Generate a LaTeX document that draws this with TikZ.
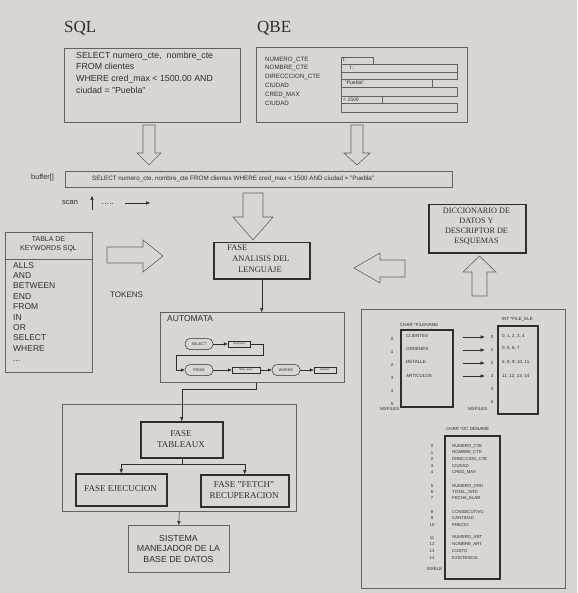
\documentclass[tikz,border=0pt]{standalone}
\usepackage{fontspec}
\setmainfont{Liberation Serif}
\setsansfont{Liberation Sans}
\usetikzlibrary{arrows.meta}
\definecolor{bg}{RGB}{217,214,209}
\definecolor{ink}{RGB}{48,46,44}
\definecolor{ln}{RGB}{100,98,96}
\newcommand{\sfz}[2]{\sffamily\fontsize{#1}{#2}\selectfont}
\newcommand{\rmz}[2]{\rmfamily\fontsize{#1}{#2}\selectfont}
\begin{document}
\begin{tikzpicture}[x=1pt,y=-1pt,
  every node/.style={inner sep=0pt, text=ink},
  thinbox/.style={draw=ln, line width=0.6pt, rectangle, anchor=north west},
  thickbox/.style={draw=ink, line width=1.5pt, rectangle, anchor=north west},
  hollow/.style={draw=ln, line width=0.6pt, line join=miter, fill=bg},
  tip/.style={draw=ink, line width=0.5pt, -{Triangle[length=4pt,width=3.2pt]}},
  oval/.style={draw=ink, line width=0.5pt, rounded corners=5pt, minimum width=28pt, minimum height=11pt, font=\sfz{3.8}{4}},
  sbox/.style={draw=ink, line width=0.5pt, minimum width=22pt, minimum height=6pt, font=\sfz{2.6}{3}},
  fld/.style={draw=ln, line width=0.5pt, anchor=north west, rectangle},
  tiny/.style={font=\sfz{4.5}{5}, anchor=west},
  idx/.style={font=\sfz{4.5}{5}}
]
\fill[bg] (0,0) rectangle (577,593);
\useasboundingbox (0,0) rectangle (577,593);

% titles
\node[font=\rmz{17}{19}, anchor=west] (tsql) at (64,28) {SQL};
\node[font=\rmz{17}{19}, anchor=west] (tqbe) at (257,28) {QBE};

% SQL box
\node[thinbox, minimum width=176pt, minimum height=74pt] (sqlbox) at (64,48) {};
\node[font=\sfz{8.8}{11.7}, align=left, anchor=north west] (sqltxt) at (76,51.5)
  {SELECT numero\_cte,\ \ nombre\_cte\\FROM clientes\\WHERE cred\_max < 1500.00 AND\\ciudad = "Puebla"};

% QBE box
\node[thinbox, minimum width=211pt, minimum height=75pt] (qbebox) at (256,47) {};
\node[font=\sfz{6.2}{8.8}, align=left, anchor=north west] (qbelbl) at (265,56.5)
  {NUMERO\_CTE\\NOMBRE\_CTE\\DIRECCCION\_CTE\\CIUDAD\\CRED\_MAX\\CIUDAD};
\node[fld, minimum width=32pt, minimum height=7pt] (f1) at (341,57) {};
\node[fld, minimum width=116pt, minimum height=8pt] (f2) at (341,64) {};
\node[fld, minimum width=116pt, minimum height=7pt] (f3) at (341,72) {};
\node[fld, minimum width=91pt, minimum height=8pt] (f4) at (341,79) {};
\node[fld, minimum width=116pt, minimum height=9pt] (f5) at (341,87) {};
\node[fld, minimum width=41pt, minimum height=7pt] (f6) at (341,96) {};
\node[fld, minimum width=116pt, minimum height=9pt] (f7) at (341,103) {};
\node[font=\sfz{5.5}{6}, anchor=west] (v1) at (343,60) {I.};
\node[font=\sfz{5.5}{6}, anchor=west] (v2) at (350,68) {I.};
\node[font=\sfz{5}{6}, anchor=west] (v4) at (345,83) {"Puebla"};
\node[font=\sfz{5}{6}, anchor=west] (v6) at (343,99.5) {< 1500};

% hollow arrows down
\draw[hollow] (143,125) -- (155,125) -- (155,153) -- (161,153) -- (149,165) -- (137,153) -- (143,153) -- cycle;
\draw[hollow] (351,125) -- (363,125) -- (363,153) -- (370,153) -- (357,165) -- (344,153) -- (351,153) -- cycle;

% buffer
\node[font=\sfz{7.3}{8}, anchor=east] (buflbl) at (54,178) {buffer[]};
\node[thinbox, minimum width=387pt, minimum height=16pt] (bufbox) at (65,171) {};
\node[font=\sfz{6.3}{7}, anchor=west] (buftxt) at (92,178.5)
  {SELECT numero\_cte, nombre\_cte FROM clientes WHERE cred\_max < 1500 AND ciudad = "Puebla"};
\node[font=\sfz{7.5}{8}, anchor=west] (scan) at (62,203) {scan};
\coordinate (sa) at (92,210);
\coordinate (sb) at (92,196);
\draw[tip] (sa) -- (sb);
\draw[ln, line width=0.6pt, dotted] (102,203) -- (114,203);
\coordinate (sc) at (125,203);
\coordinate (sd) at (150,203);
\draw[tip] (sc) -- (sd);

% big hollow arrow into FASE
\draw[hollow] (243,193) -- (263,193) -- (263,217) -- (273,217) -- (253,240) -- (233,217) -- (243,217) -- cycle;

% FASE analisis
\node[thickbox, minimum width=96pt, minimum height=36pt] (fase) at (213,242) {};
\node[font=\rmz{8.5}{9}, anchor=west] (fase1) at (227,248) {FASE};
\node[font=\rmz{8.5}{9}] (fase2) at (261,259) {ANALISIS DEL};
\node[font=\rmz{8.5}{9}] (fase3) at (260,269.5) {LENGUAJE};

% Diccionario
\node[thickbox, minimum width=97pt, minimum height=48pt] (dic) at (428,204) {};
\node[font=\rmz{8.2}{10}, align=center] (dictxt) at (476.5,226.5) {DICCIONARIO DE\\DATOS Y\\DESCRIPTOR DE\\ESQUEMAS};

% hollow left arrow and up arrow
\draw[hollow] (405,260) -- (380,260) -- (380,253) -- (354,268) -- (380,283) -- (380,277) -- (405,277) -- cycle;
\draw[hollow] (472,296) -- (472,272) -- (463,272) -- (479.5,256) -- (496,272) -- (487,272) -- (487,296) -- cycle;

% keywords table
\node[thinbox, minimum width=87pt, minimum height=140pt] (kw) at (5,232) {};
\draw[ln, line width=0.6pt] (kw.west |- 0,259) -- (kw.east |- 0,259);
\node[font=\sfz{7}{9.5}, align=center] (kwh) at (48.5,244.5) {TABLA DE\\KEYWORDS SQL};
\node[font=\sfz{8.5}{10.4}, align=left, anchor=north west] (kwl) at (13,262)
  {ALLS\\AND\\BETWEEN\\END\\FROM\\IN\\OR\\SELECT\\WHERE\\...};

% hollow right arrow + TOKENS
\draw[hollow] (107,247) -- (143,247) -- (143,240) -- (163,256) -- (143,272) -- (143,263) -- (107,263) -- cycle;
\node[font=\sfz{8}{9}, anchor=west] (tok) at (110,295) {TOKENS};

% AUTOMATA
\node[thinbox, minimum width=184pt, minimum height=70pt] (auto) at (160,312) {};
\node[font=\sfz{8.5}{9}, anchor=west] (autot) at (167,318.5) {AUTOMATA};
\draw[tip] (fase.south) -- (fase.south |- auto.north);
\node[oval] (sel) at (199,344) {SELECT};
\node[sbox] (ft) at (239,344) {field types};
\node[oval] (frm) at (199,370) {FROM};
\node[sbox, minimum width=28pt] (tn) at (246,370) {table\_name};
\node[oval] (whr) at (286,370) {WHERE};
\node[sbox] (bo) at (325,370) {boolean};
\draw[tip] (sel) -- (ft);
\draw[tip] (ft.east) -- ++(13,0) -- ++(0,11) -| ([xshift=-9pt]frm.west) -- (frm.west);
\draw[tip] (frm) -- (tn);
\draw[tip] (tn) -- (whr);
\draw[tip] (whr) -- (bo);

% bottom group
\node[thinbox, minimum width=234pt, minimum height=107pt] (grp) at (62,404) {};
\node[thickbox, minimum width=82pt, minimum height=36pt] (tab) at (140,421) {};
\node[font=\rmz{9}{11}, align=center] (tabt) at (181,439) {FASE\\TABLEAUX};
\node[thickbox, minimum width=91pt, minimum height=32pt] (ej) at (75,473) {};
\node[font=\rmz{9}{11}] (ejt) at (120.5,489) {FASE EJECUCION};
\node[thickbox, minimum width=88pt, minimum height=32pt] (fe) at (200,474) {};
\node[font=\rmz{9}{11}, align=center] (fet) at (244,490) {FASE "FETCH"\\RECUPERACION};
\node[thinbox, minimum width=101pt, minimum height=47pt] (sis) at (128,525) {};
\node[font=\sfz{8.8}{10.5}, align=center] (sist) at (178.5,548.5) {SISTEMA\\MANEJADOR DE LA\\BASE DE DATOS};
\draw[tip] ([xshift=4pt]auto.south) -- ++(0,7) -| (tab.north);
\draw[tip] (tab.south) -- ++(0,6) -| (ej.north);
\draw[tip] (tab.south) -- ++(0,6) -| (fe.north);
\draw[tip] (grp.south) -- (sis.north);

% right data structures
\node[thinbox, minimum width=204pt, minimum height=279pt] (rbox) at (361,309) {};
\node[font=\sfz{4.5}{5}, anchor=west] (fnl) at (400,325) {CHAR *FILENAME};
\node[thickbox, minimum width=52pt, minimum height=77pt] (fnb) at (400,329) {};
\node[font=\sfz{4.5}{5}, anchor=west] (fel) at (502,319) {INT *FILE\_ELE};
\node[thickbox, minimum width=40pt, minimum height=88pt] (feb) at (497,325) {};
\foreach \i/\yy in {0/339,1/352,2/365,3/378,4/391,5/404} {
  \node[idx] (li\i) at (392,\yy) {\i};
  \node[idx] (ri\i) at (492,\yy-2) {\i};
}
\node[tiny] (c0) at (406,336) {CLIENTES};
\node[tiny] (c1) at (406,349) {ORDENES};
\node[tiny] (c2) at (406,362) {DETALLE};
\node[tiny] (c3) at (406,376) {ARTICULOS};
\node[tiny] (e0) at (502,336) {0, 1, 2, 3, 4};
\node[tiny] (e1) at (502,348) {0, 5, 6, 7};
\node[tiny] (e2) at (502,362) {5, 8, 9, 10, 11};
\node[tiny] (e3) at (502,376) {11, 12, 13, 14};
\foreach \i in {0,1,2,3} {
  \draw[tip, shorten <=9pt] (fnb.east |- ri\i.west) -- ([xshift=-6pt]ri\i.west);
}
\node[tiny] (mx1) at (380,408.5) {MXFILES};
\node[tiny] (mx2) at (468,409) {MXFILES};

\node[font=\sfz{4.5}{5}, anchor=west] (ocl) at (446,429) {CHAR *OC DENAME};
\node[thickbox, minimum width=55pt, minimum height=143pt] (ocb) at (444,435) {};
\foreach \i/\yy/\nm in {0/446/NUMERO\_CTE,1/452.7/NOMBRE\_CTE,2/459.3/DIRECCION\_CTE,3/466/CIUDAD,4/472.3/CRED\_MAX,
  5/486/NUMERO\_ORD,6/492/TOTAL\_ORD,7/498.3/FECHA\_ELAB,
  8/511.7/CONSECUTIVO,9/518.3/CANTIDAD,10/525/PRECIO,
  11/537.7/NUMERO\_ART,12/544.3/NOMBRE\_ART,13/551/COSTO,14/557.7/EXISTENCIA} {
  \node[font=\sfz{4.3}{5}] (oi\i) at (432,\yy) {\i};
  \node[font=\sfz{4.3}{5}, anchor=west] (on\i) at (452,\yy) {\nm};
}
\node[tiny] (mxe) at (427,569) {MXELE};
\end{tikzpicture}
\end{document}
